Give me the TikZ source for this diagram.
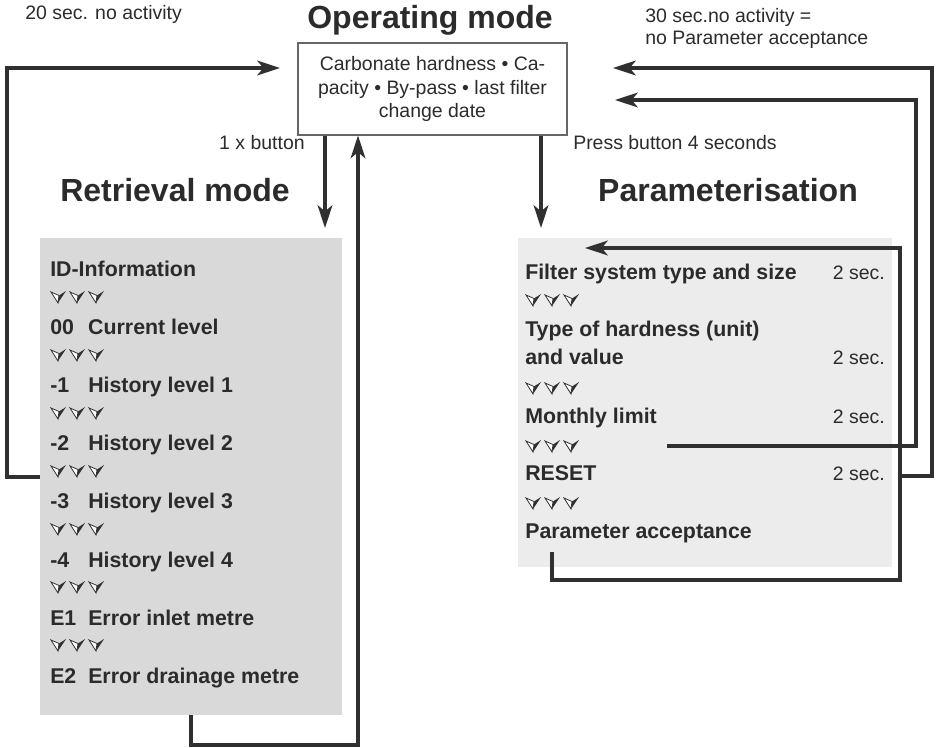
\documentclass[tikz,border=0pt]{standalone}
\usepackage{fontspec}
\setmainfont{Liberation Sans}
\usetikzlibrary{positioning,arrows.meta}

\definecolor{ink}{HTML}{2B2B2B}
\definecolor{wirecol}{HTML}{303030}
\definecolor{boxline}{HTML}{666666}
\definecolor{graya}{HTML}{D9D9D9}
\definecolor{grayb}{HTML}{ECECEC}

\newcommand{\lv}[2]{\makebox[28.5pt][l]{#1}#2}

\tikzset{
  small/.style={font=\fontsize{14.6}{17.6}\selectfont,text=ink,inner sep=0pt},
  title/.style={font=\fontsize{24}{28}\selectfont\bfseries,text=ink,inner sep=0pt,anchor=base},
  item/.style={font=\fontsize{16}{18}\selectfont\bfseries,text=ink,inner sep=0pt,anchor=base west},
  secs/.style={small,anchor=base east},
  opbox/.style={small,draw=boxline,line width=0.8pt,minimum width=201.75pt,minimum height=69pt,align=center},
  lista/.style={fill=graya,minimum width=226.5pt,minimum height=357.75pt,inner sep=0pt},
  listb/.style={fill=grayb,minimum width=280.5pt,minimum height=246.75pt,inner sep=0pt},
  arr/.style={draw=wirecol,line width=2.6pt,-{Stealth[length=17pt,width=11pt,inset=4.5pt]}},
  vtip/.pic={
    \fill[wirecol] (8,4.5) -- (15,0) -- (7,12) -- cycle;
    \filldraw[fill=white,draw=wirecol,line width=0.6pt] (0,1) -- (8,4.5) -- (7,12) -- cycle;
  },
  vrow/.pic={
    \pic at (0,0) {vtip}; \pic at (19,0) {vtip}; \pic at (38,0) {vtip};
  }
}

\begin{document}
\begin{tikzpicture}[x=0.75pt,y=-0.75pt]
\useasboundingbox (0,0) rectangle (936,748);

\node[title] (optitle) at (430,29) {Operating mode};
\node[opbox] (op) at (432.5,89) {Carbonate hardness • Ca-\\pacity • By-pass • last filter\\change date};
\node[small,anchor=base west] (t20) at (25,20) {20 sec. no activity};
\node[small,anchor=base west] (t30a) at (645,23) {30 sec.no activity =};
\node[small,anchor=base west] (t30b) at (645,45) {no Parameter acceptance};
\node[small,anchor=base east] (press1) at (305,150) {1 x button};
\node[small,anchor=base west] (press4) at (573,150) {Press button 4 seconds};
\node[title] (rtitle) at (175,202) {Retrieval mode};
\node[title] (ptitle) at (728,202) {Parameterisation};

% retrieval list
\node[lista] (ra) at (191,476.5) {};
\node[item] (idinfo) at (50,277) {ID-Information};
\node[item] (l00) at (50,335) {\lv{00}{Current level}};
\node[item] (l1) at (50,393) {\lv{-1}{History level 1}};
\node[item] (l2) at (50,451) {\lv{-2}{History level 2}};
\node[item] (l3) at (50,509) {\lv{-3}{History level 3}};
\node[item] (l4) at (50,567) {\lv{-4}{History level 4}};
\node[item] (e1) at (50,625) {\lv{E1}{Error inlet metre}};
\node[item] (e2) at (50,683) {\lv{E2}{Error drainage metre}};
\pic at (51,291) {vrow};
\pic at (51,349) {vrow};
\pic at (51,407) {vrow};
\pic at (51,465) {vrow};
\pic at (51,523) {vrow};
\pic at (51,581) {vrow};
\pic at (51,639) {vrow};

% parameter list
\node[listb] (pb) at (705,402.5) {};
\node[item] (ftype) at (525,280) {Filter system type and size};
\node[secs] (s1) at (885,280) {2 sec.};
\node[item] (hard) at (525,337) {Type of hardness (unit)};
\node[item] (hardv) at (525,365) {and value};
\node[secs] (s2) at (885,365) {2 sec.};
\node[item] (month) at (525,424) {Monthly limit};
\node[secs] (s3) at (885,424) {2 sec.};
\node[item] (reset) at (525,481) {RESET};
\node[secs] (s4) at (885,481) {2 sec.};
\node[item] (accept) at (525,539) {Parameter acceptance};
\pic at (526,294) {vrow};
\pic at (526,382) {vrow};
\pic at (526,440) {vrow};
\pic at (526,497) {vrow};

% connectors
\coordinate (rin) at (325,228);
\coordinate (pin) at (541,228);
\coordinate (rup) at (358,745);
\coordinate (lcor) at (7,477);
\coordinate (ltop) at (7,68);
\coordinate (lin) at (280,68);
\coordinate (o1) at (900,476);
\coordinate (o2) at (932,476);
\coordinate (o3) at (932,68);
\coordinate (oin) at (613,68);
\coordinate (m1) at (667,446);
\coordinate (m2) at (916,446);
\coordinate (m3) at (916,100);
\coordinate (min) at (615,100);
\coordinate (i1) at (552,552);
\coordinate (i3) at (900,580);
\coordinate (i4) at (900,248);
\coordinate (iin) at (585,248);

\draw[arr] (op.south -| rin) -- (rin);
\draw[arr] (op.south -| pin) -- (pin);
\draw[arr] (ra.south) |- (rup) -- (op.south -| rup);
\draw[arr] (ra.west |- lcor) -- (lcor) -- (ltop) -- (lin);
\draw[arr] (o1) -- (o2) -- (o3) -- (oin);
\draw[arr] (m1) -- (m2) -- (m3) -- (min);
\draw[arr] (i1) |- (i3) -- (i4) -- (iin);
\end{tikzpicture}
\end{document}
